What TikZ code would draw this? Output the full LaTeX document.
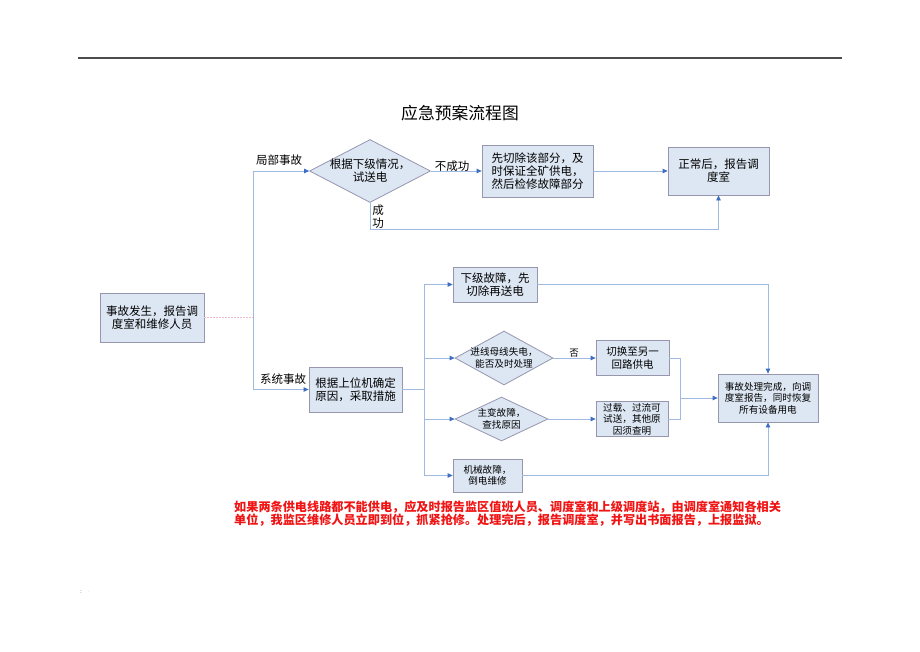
\documentclass[tikz,border=0pt]{standalone}
\usepackage{fontspec}
\setmainfont{Noto Sans CJK SC}
\usetikzlibrary{shapes.geometric,arrows.meta}
\definecolor{boxfill}{RGB}{221,231,243}
\definecolor{boxline}{RGB}{150,150,175}
\definecolor{conncol}{RGB}{160,185,225}
\definecolor{tipcol}{RGB}{60,110,195}
\definecolor{redtxt}{RGB}{240,20,20}
\definecolor{pinkline}{RGB}{240,190,200}
\begin{document}
\begin{tikzpicture}[x=1pt,y=-1pt,
  box/.style={draw=boxline, fill=boxfill, line width=0.8pt, inner sep=0pt, align=center},
  dia/.style={diamond, draw=boxline, fill=boxfill, line width=0.8pt, inner sep=0pt},
  conn/.style={draw=conncol, line width=0.8pt},
  arr/.style={conn, -{Triangle[length=5pt,width=4.5pt,color=tipcol]}},
  lbl/.style={font=\fontsize{11.5}{13}\selectfont, inner sep=0pt},
  bigt/.style={font=\fontsize{11.5}{12.8}\selectfont},
  midt/.style={font=\fontsize{10.5}{12.2}\selectfont},
  smallt/.style={font=\fontsize{9.6}{11.6}\selectfont}]
\fill[white] (0,0) rectangle (920,651);
\useasboundingbox (0,0) rectangle (920,651);

% page rule and marks
\draw[gray!60!black, line width=1.2pt] (78,58) -- (842,58);
\node[font=\fontsize{4}{4}\selectfont, text=gray, inner sep=0] (dot1) at (460,53) {.};
\node[font=\fontsize{5}{5}\selectfont, inner sep=0] (dot2) at (81,592) {:};
\node[font=\fontsize{4}{4}\selectfont, text=gray, inner sep=0] (dot3) at (89,592) {.};

% title
\node[font=\fontsize{16.8}{18}\selectfont, inner sep=0] (title) at (460,113) {应急预案流程图};

% nodes
\node[box, bigt, minimum width=104pt, minimum height=49pt] (s) at (152,317.5) {事故发生，报告调\\度室和维修人员};
\node[dia, minimum width=121pt, minimum height=63pt,
      label={[bigt, align=center, inner sep=0pt]center:{根据下级情况，\\试送电}}] (d1) at (370,171) {};
\node[box, bigt, minimum width=111pt, minimum height=52pt] (b1) at (537.5,171) {先切除该部分，及\\时保证全矿供电，\\然后检修故障部分};
\node[box, bigt, minimum width=101pt, minimum height=48pt] (b2) at (718.5,171) {正常后，报告调\\度室};
\node[box, bigt, minimum width=93pt, minimum height=45pt] (m) at (355.5,389.5) {根据上位机确定\\原因，采取措施};
\node[box, bigt, minimum width=84pt, minimum height=35pt] (k1) at (495,284.5) {下级故障，先\\切除再送电};
\node[dia, minimum width=98pt, minimum height=54pt,
      label={[smallt, align=center, inner sep=0pt]center:{进线母线失电，\\能否及时处理}}] (d2) at (504,358) {};
\node[box, midt, minimum width=73pt, minimum height=35pt] (k2) at (632.5,358) {切换至另一\\回路供电};
\node[dia, minimum width=93pt, minimum height=44pt,
      label={[smallt, align=center, inner sep=0pt]center:{主变故障，\\查找原因}}] (d3) at (501.5,419) {};
\node[box, smallt, minimum width=72pt, minimum height=35pt] (k3) at (632,419) {过载、过流可\\试送，其他原\\因须查明};
\node[box, smallt, minimum width=69pt, minimum height=33pt] (k4) at (487.5,475.5) {机械故障，\\倒电维修};
\node[box, smallt, minimum width=100pt, minimum height=48pt] (e) at (768,398) {事故处理完成，向调\\度室报告，同时恢复\\所有设备用电};

% labels
\node[lbl] (l1) at (279,160) {局部事故};
\node[lbl] (l2) at (452,166) {不成功};
\node[lbl] (l3) at (378,210) {成};
\node[lbl] (l4) at (378,223) {功};
\node[lbl] (l5) at (283,379) {系统事故};
\node[font=\fontsize{9.5}{11}\selectfont, inner sep=0pt] (l6) at (574,353) {否};

% connectors
\coordinate (j) at (253,317.5);
\draw[pinkline, line width=0.8pt, dash pattern=on 2pt off 1pt] (s.east) -- (j);
\draw[arr] (j) |- (d1.west);
\draw[arr] (j) |- (m.west);
\draw[arr] (d1.east) -- (b1.west);
\draw[arr] (b1.east) -- (b2.west);
\coordinate (c1) at (370,229);
\draw[arr] (d1.south) -- (c1) -| (b2.south);

\coordinate (k) at (424,389.5);
\draw[conn] (m.east) -- (k);
\draw[arr] (k) |- (k1.west);
\draw[arr] (k) |- (d2.west);
\draw[arr] (k) |- (d3.west);
\draw[arr] (k) |- (k4.west);
\draw[arr] (d2.east) -- (k2.west);
\draw[arr] (d3.east) -- (k3.west);
\draw[arr] (k1.east) -| (e.north);
\draw[arr] (k4.east) -| (e.south);
\coordinate (jj) at (680,398);
\draw[conn] (k2.east) -| (jj);
\draw[conn] (k3.east) -| (jj);
\draw[arr] (jj) -- (e.west);

% note
\node[anchor=north west, align=left, text=redtxt, inner sep=0pt,
      font=\fontsize{12.15}{12.8}\selectfont\bfseries] (note) at (234,500.5)
  {如果两条供电线路都不能供电，应及时报告监区值班人员、调度室和上级调度站，由调度室通知各相关\\单位，我监区维修人员立即到位，抓紧抢修。处理完后，报告调度室，并写出书面报告，上报监狱。};
\end{tikzpicture}
\end{document}
